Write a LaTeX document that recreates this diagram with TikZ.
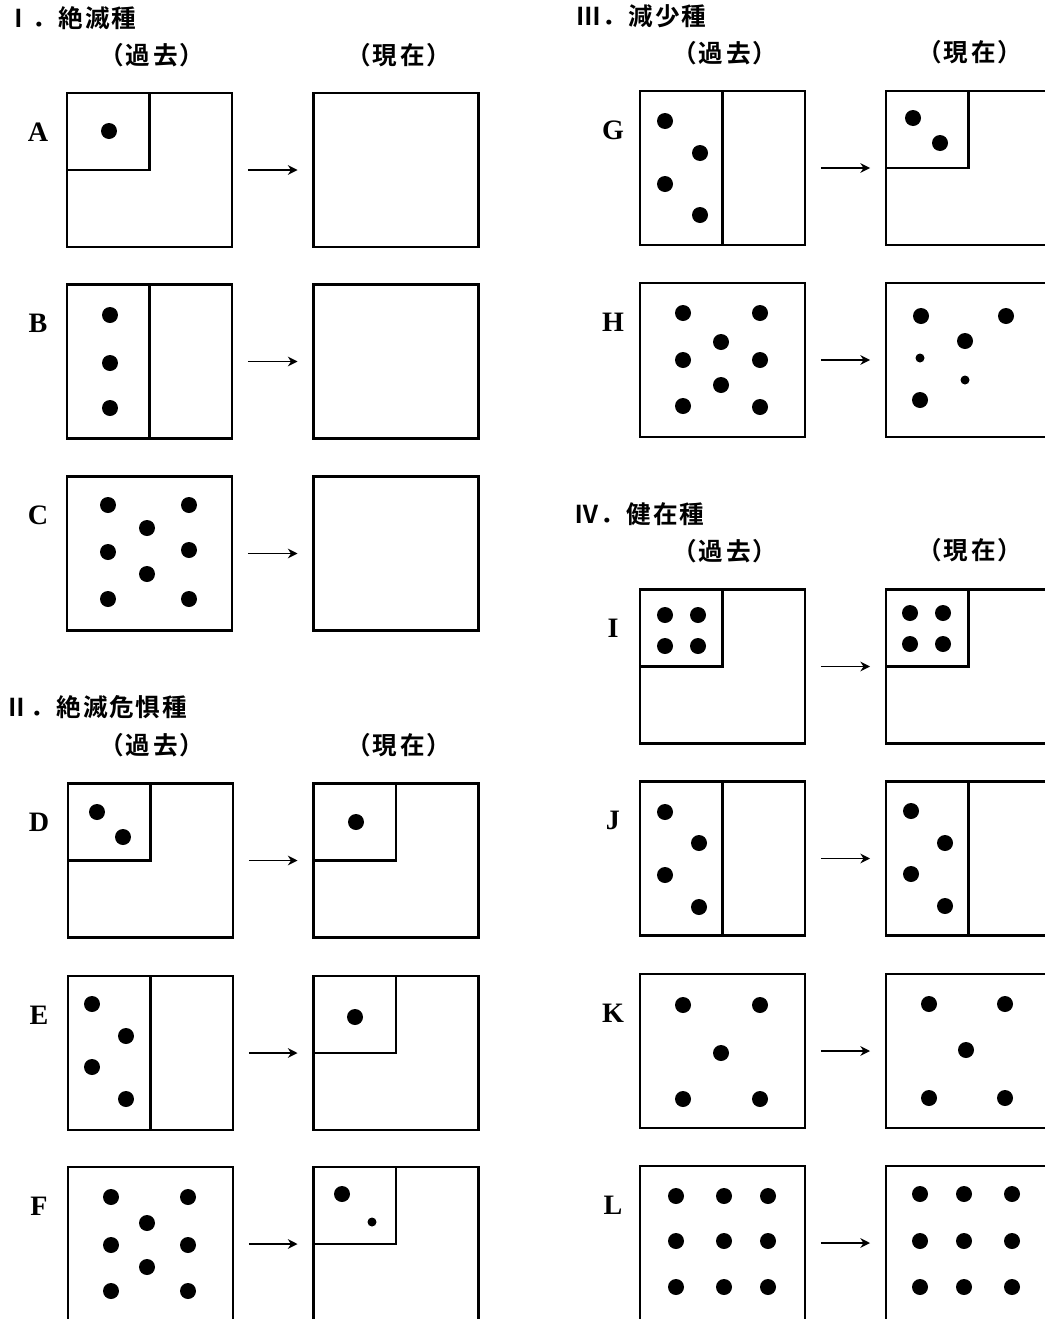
\documentclass[tikz,border=0pt]{standalone}
\usepackage{fontspec}
\setmainfont{Liberation Serif}
\newfontfamily\cjk{Noto Sans CJK JP}[BoldFont={Noto Sans CJK JP Bold},LetterSpace=7]
\newfontfamily\cjkp{Noto Sans CJK JP}[BoldFont={Noto Sans CJK JP Bold},RawFeature=+palt,LetterSpace=12]
\usetikzlibrary{positioning,arrows.meta}

\begin{document}
\begin{tikzpicture}[x=0.02cm,y=-0.02cm,
  box/.style={draw,line width=1.6pt,minimum width=3.3cm,minimum height=3.08cm,inner sep=0pt,outer sep=0pt},
  part/.style={line width=1.6pt},
  flow/.style={-{Stealth[length=5.5pt,width=5.5pt]},line width=1.1pt,shorten <=0.32cm,shorten >=0.32cm},
  lbl/.style={font=\bfseries\fontsize{16}{18}\selectfont},
  head/.style={anchor=west,inner sep=0pt,font=\cjk\bfseries\fontsize{14}{16}\selectfont},
  when/.style={inner sep=0pt,font=\cjkp\bfseries\fontsize{14}{16}\selectfont}]
  \useasboundingbox (0,0) rectangle (1045,1319);
  \clip (0,0) rectangle (1045,1319);

  % section headings
  \node[head] (secI) at (6,18) {Ⅰ．絶滅種};
  \node[head] (secII) at (4,707) {Ⅱ．絶滅危惧種};
  \node[head] (secIII) at (576,16) {Ⅲ．減少種};
  \node[head] (secIV) at (574,514) {Ⅳ．健在種};
  \node[when] (pastI) at (152,55) {（過去）};
  \node[when] (nowI) at (399,55) {（現在）};
  \node[when] (pastII) at (152,745) {（過去）};
  \node[when] (nowII) at (399,745) {（現在）};
  \node[when] (pastIII) at (725,53) {（過去）};
  \node[when] (nowIII) at (970,52) {（現在）};
  \node[when] (pastIV) at (725,551) {（過去）};
  \node[when] (nowIV) at (970,550) {（現在）};

  % boxes, labels and arrows
  \foreach \r/\xa/\xb/\xl/\y in {A/149.5/396/38/170, B/149.5/396/38/361.5, C/149.5/396/38/553.5,
      D/150.5/396/39/860.5, E/150.5/396/39/1053, F/150.5/396/39/1244,
      G/722.5/968.5/613/168, H/722.5/968.5/613/360, I/722.5/968.5/613/666.5,
      J/722.5/968.5/613/858.5, K/722.5/968.5/613/1051, L/722.5/968.5/613/1243} {
    \node[box] (\r-old) at (\xa,\y) {};
    \node[box] (\r-new) at (\xb,\y) {};
    \node[lbl] (\r-lbl) at (\xl,\y-38) {\r};
    \draw[flow] (\r-old) -- (\r-new);
  }

  % quarter and half parts
  \foreach \b in {A-old,D-old,D-new,E-new,F-new,G-new,I-old,I-new}
    \draw[part] (\b.north west) rectangle (\b.center);
  \foreach \b in {B-old,E-old,G-old,J-old,J-new}
    \draw[part] (\b.north) -- (\b.south);

  % individuals
  \foreach \p in {(109,131),
      (110,315),(110,363),(110,408),
      (108,505),(189,505),(147,528),(108,552),(189,550),(147,574),(108,599),(189,599),
      (97,812),(123,837),(356,822),
      (92,1004),(126,1036),(92,1067),(126,1099),(355,1017),
      (111,1197),(188,1197),(147,1223),(111,1245),(188,1245),(147,1267),(111,1291),(188,1291),(342,1194),
      (665,121),(700,153),(665,184),(700,215),(913,118),(940,143),
      (683,313),(760,313),(721,342),(683,360),(760,360),(721,385),(683,406),(760,407),
      (921,316),(1006,316),(965,341),(920,400),
      (665,615),(698,615),(665,646),(698,646),(910,613),(943,613),(910,644),(943,644),
      (665,812),(699,843),(665,875),(699,907),(911,811),(945,843),(911,874),(945,906),
      (683,1005),(760,1005),(721,1053),(683,1099),(760,1099),
      (929,1004),(1005,1004),(966,1050),(929,1098),(1005,1098),
      (676,1196),(724,1196),(768,1196),(676,1241),(724,1241),(768,1241),(676,1287),(724,1287),(768,1287),
      (920,1194),(964,1194),(1012,1194),(920,1241),(964,1241),(1012,1241),(920,1287),(964,1287),(1012,1287)}
    \fill \p circle[radius=0.16cm];
  \foreach \p in {(920,358),(965,380),(372,1222)}
    \fill \p circle[radius=0.09cm];
\end{tikzpicture}
\end{document}
